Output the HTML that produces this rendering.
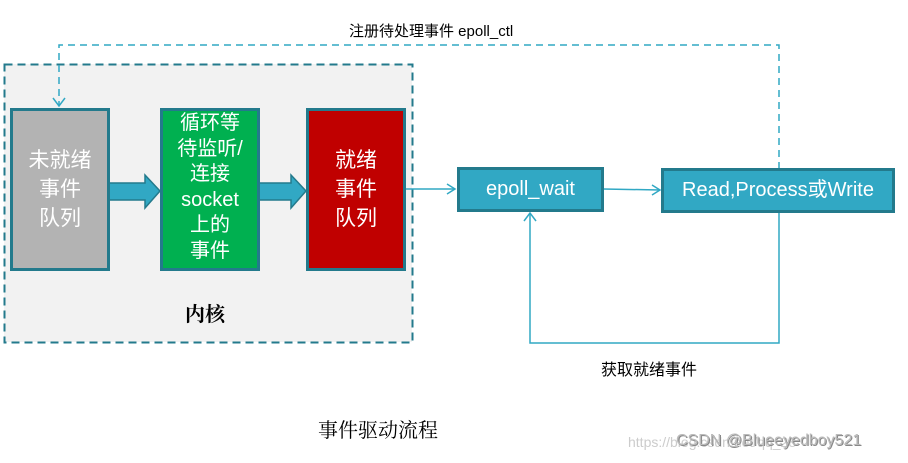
<!DOCTYPE html>
<html><head><meta charset="utf-8"><style>
body{margin:0;width:908px;height:463px;background:#fff;position:relative;overflow:hidden;font-family:"Liberation Sans","Noto Sans CJK SC",sans-serif}
.a{position:absolute}
.box{position:absolute;box-sizing:border-box;border:3px solid #237a8c;color:#fff;text-align:center;display:flex;align-items:center;justify-content:center;font-size:21px;line-height:29px}
</style></head><body>
<div class="a" style="left:4px;top:64px;width:408px;height:278px;background:#f2f2f2"></div>
<svg class="a" style="left:0;top:0" width="908" height="463">
<rect x="4.5" y="64.5" width="408" height="278" fill="none" stroke="#237a8c" stroke-width="2" stroke-dasharray="8,5"/>
<polyline points="779,169 779,45 59,45 59,106" fill="none" stroke="#31a8c4" stroke-width="1.5" stroke-dasharray="7,5"/>
<polyline points="53,98 59,106 65,98" fill="none" stroke="#31a8c4" stroke-width="1.5"/>
<polyline points="779,212 779,343 530,343 530,213" fill="none" stroke="#31a8c4" stroke-width="1.5"/>
<polyline points="524,221 530,213 536,221" fill="none" stroke="#31a8c4" stroke-width="1.5"/>
<line x1="405" y1="189" x2="455" y2="189" stroke="#31a8c4" stroke-width="1.5"/>
<polyline points="447,184 455,189 447,194" fill="none" stroke="#31a8c4" stroke-width="1.5"/>
<line x1="603" y1="189" x2="660" y2="190" stroke="#31a8c4" stroke-width="1.5"/>
<polyline points="652,185 660,190 652,195" fill="none" stroke="#31a8c4" stroke-width="1.5"/>
<polygon points="108,183 145,183 145,175 160,191 145,208 145,200 108,200" fill="#31a8c4" stroke="#237a8c" stroke-width="1.5"/>
<polygon points="259,183 291,183 291,175 306,191 291,208 291,200 259,200" fill="#31a8c4" stroke="#237a8c" stroke-width="1.5"/>
</svg>
<div class="box" style="left:10px;top:108px;width:100px;height:163px;background:#b3b3b3">未就绪<br>事件<br>队列</div>
<div class="box" style="left:160px;top:108px;width:100px;height:163px;background:#00b050;font-size:20px;line-height:25.5px;align-items:flex-start;padding-top:0px">循环等<br>待监听/<br>连接<br>socket<br>上的<br>事件</div>
<div class="box" style="left:306px;top:108px;width:100px;height:163px;background:#c00000">就绪<br>事件<br>队列</div>
<div class="box" style="left:457px;top:167px;width:147px;height:45px;background:#31a8c4;font-size:20px">epoll_wait</div>
<div class="box" style="left:661px;top:168px;width:234px;height:45px;background:#31a8c4;font-size:20px">Read,Process或Write</div>
<div class="a" style="left:185px;top:298px;font-size:20px;font-weight:bold;color:#000;font-family:'Liberation Serif','Noto Serif CJK SC',serif">内核</div>
<div class="a" style="left:349px;top:20px;font-size:15px;color:#000">注册待处理事件 epoll_ctl</div>
<div class="a" style="left:601px;top:356px;font-size:16px;color:#000">获取就绪事件</div>
<div class="a" style="left:318px;top:414px;font-size:20px;color:#000;font-family:'Liberation Serif','Noto Serif CJK SC',serif">事件驱动流程</div>
<div class="a" style="left:628px;top:434px;font-size:14px;color:#ccc">https://blog.csdn.net/qq_28</div>
<div class="a" style="left:676px;top:432px;font-size:16px;color:#bbb;text-shadow:1px 1px 0 #888">CSDN @Blueeyedboy521</div>
</body></html>
